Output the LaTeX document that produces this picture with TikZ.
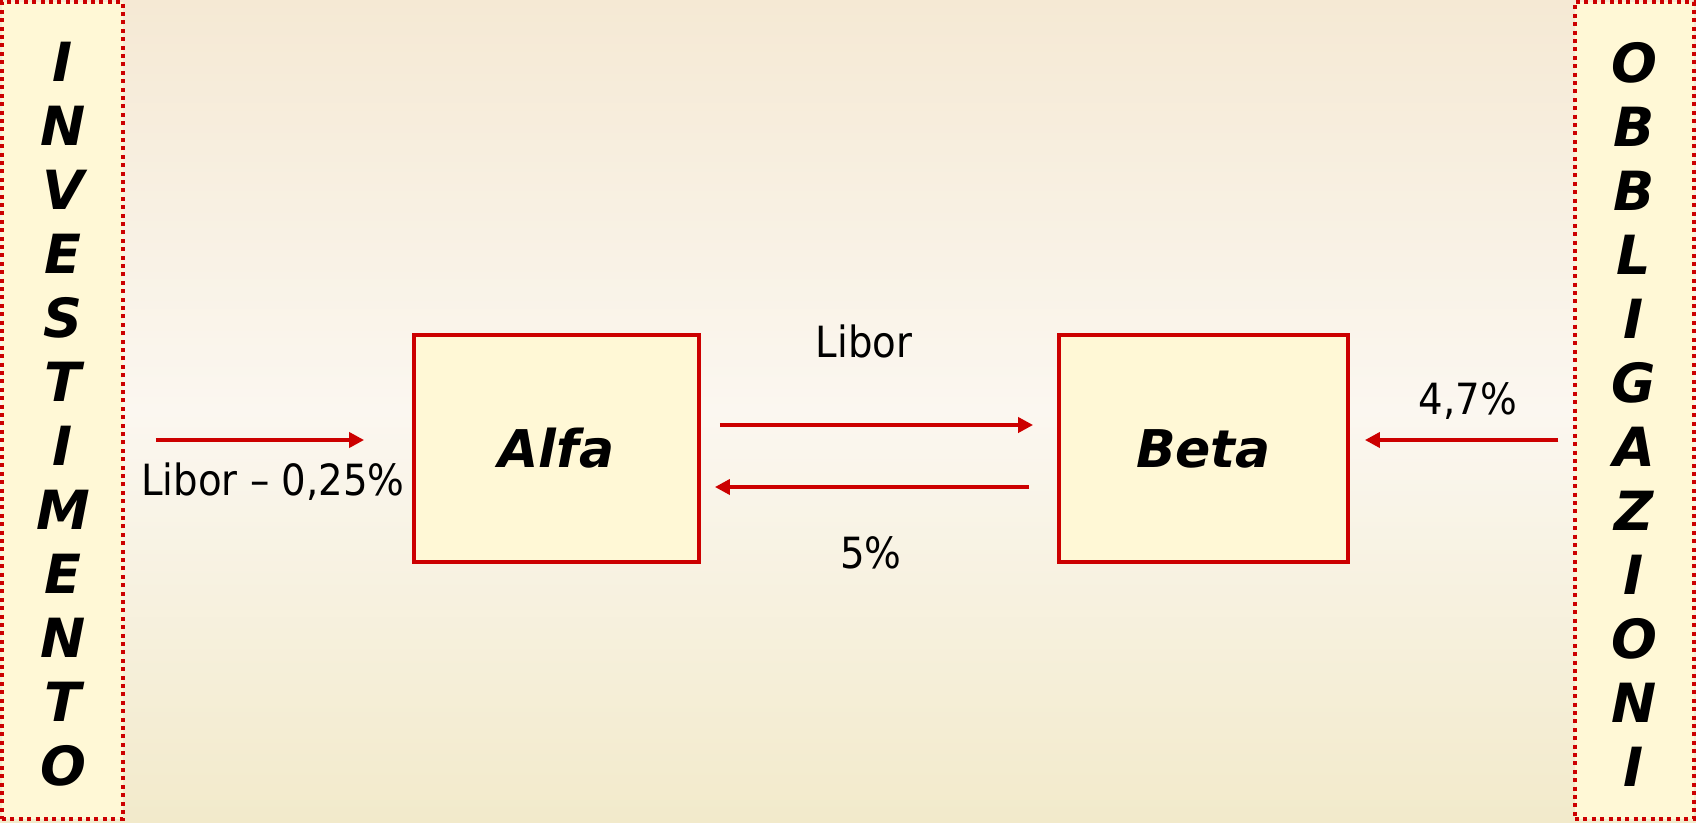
\documentclass[tikz,border=0pt]{standalone}
\usepackage{fontspec}
\setmainfont{DejaVu Sans}
\newfontfamily\labelfont{DejaVu Sans Condensed}
\usetikzlibrary{arrows.meta}
\definecolor{flowred}{HTML}{CC0000}
\definecolor{boxfill}{HTML}{FFF8D6}
\definecolor{bgtop}{HTML}{F5E9D4}
\definecolor{bgmid}{HTML}{FBF7F0}
\definecolor{bgbot}{HTML}{F2EACB}
\tikzset{
  party/.style={draw=flowred, line width=3.8pt, fill=boxfill, inner sep=0pt,
    font=\fontsize{52}{60}\selectfont\bfseries\itshape},
  sidebox/.style={draw=flowred, line width=3.5pt, dash pattern=on 4pt off 4.4pt,
    fill=boxfill, inner sep=0pt, minimum height=817pt},
  sideword/.style={align=center, inner sep=0pt,
    font=\fontsize{54}{64}\selectfont\bfseries\itshape},
  flow/.style={draw=flowred, line width=4pt,
    -{Triangle[length=15pt,width=15pt]}},
  rate/.style={font=\labelfont\fontsize{43}{48}\selectfont, inner sep=0pt}
}
\begin{document}
\begin{tikzpicture}[x=1pt,y=-1pt]
  % page and background shading
  \useasboundingbox (0,0) rectangle (1696,822);
  \shade[top color=bgtop, bottom color=bgbot, middle color=bgmid]
    (0,0) rectangle (1696,822);

  % side panels
  \node[sidebox, minimum width=121pt] (inv) at (62.5,410.5) {};
  \node[sidebox, minimum width=119pt] (obb) at (1634.5,410.5) {};
  \node[sideword] (invtext) at (63,414)
    {I\\N\\V\\E\\S\\T\\I\\M\\E\\N\\T\\O};
  \node[sideword] (obbtext) at (1634,414)
    {O\\B\\B\\L\\I\\G\\A\\Z\\I\\O\\N\\I};

  % the two counterparties
  \node[party, minimum width=285pt, minimum height=227pt] (alfa) at (556.5,448.5) {Alfa};
  \node[party, minimum width=289pt, minimum height=227pt] (beta) at (1203.5,448.5) {Beta};

  % cash flows
  \draw[flow, shorten <=31pt, shorten >=48pt]
    ([yshift=8.5pt]inv.east |- alfa.west) -- ([yshift=8.5pt]alfa.west);
  \draw[flow, shorten <=19pt, shorten >=24pt]
    ([yshift=23.5pt]alfa.east) -- ([yshift=23.5pt]beta.west);
  \draw[flow, shorten <=28pt, shorten >=14pt]
    ([yshift=-38.5pt]beta.west) -- ([yshift=-38.5pt]alfa.east);
  \draw[flow, shorten <=15pt, shorten >=15pt]
    ([yshift=8.5pt]obb.west |- beta.east) -- ([yshift=8.5pt]beta.east);

  % rate labels
  \node[rate] (l1) at (273,482) {Libor – 0,25\%};
  \node[rate] (l2) at (864,341) {Libor};
  \node[rate] (l3) at (871,553) {5\%};
  \node[rate] (l4) at (1468,401) {4,7\%};
\end{tikzpicture}
\end{document}
